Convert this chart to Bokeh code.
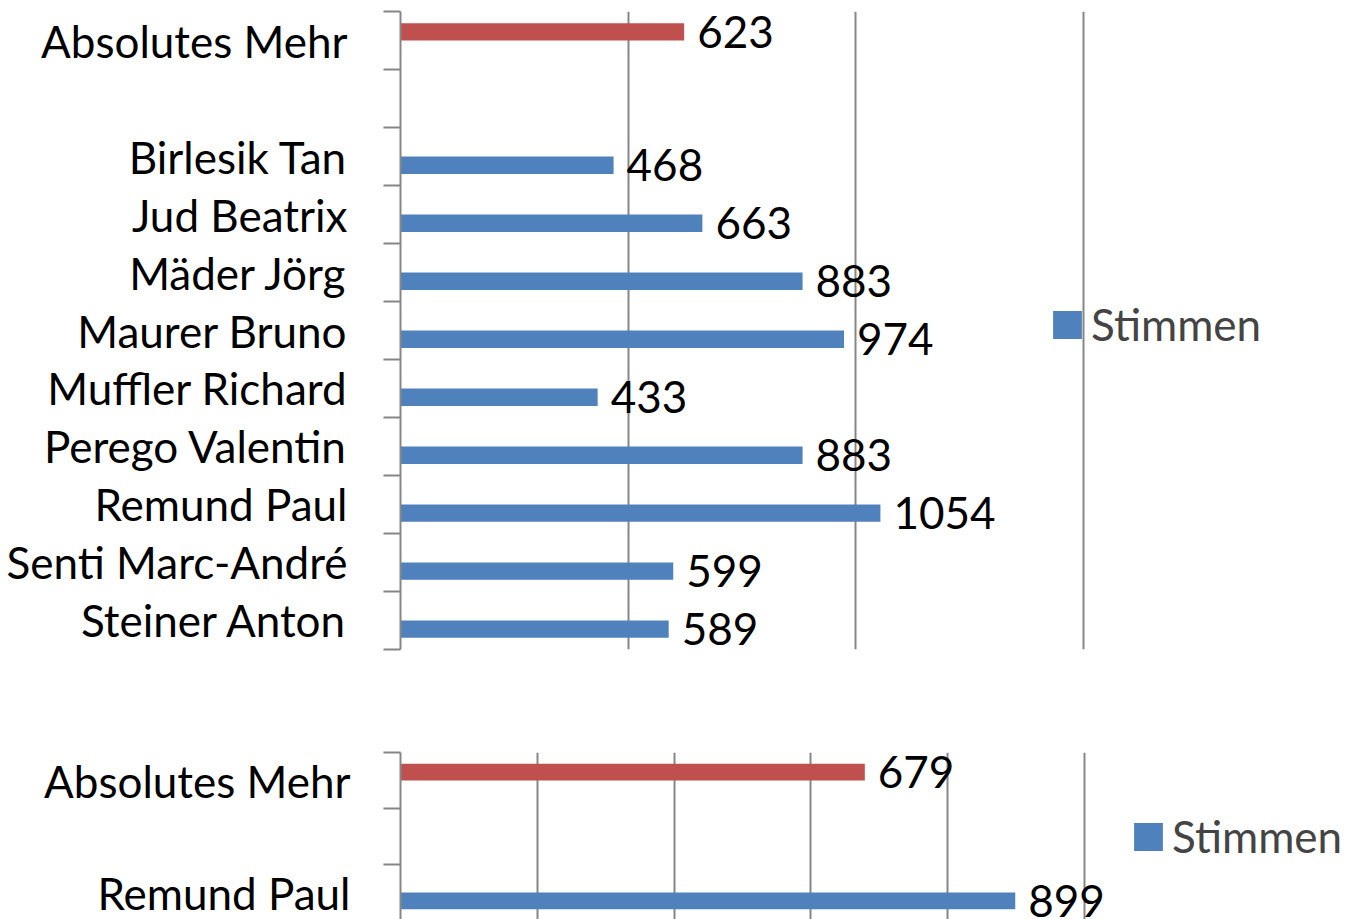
from bokeh.plotting import figure
from bokeh.models import Range1d, FixedTicker, Grid, Legend, LegendItem, ColumnDataSource
from bokeh.layouts import column
from bokeh.core.properties import value
from bokeh.embed import file_html
from bokeh.resources import INLINE

# ---------------- data ----------------
MAJORITY_LABEL = "Absolutes Mehr"
SERIES_LABEL = "Stimmen"

# first ballot
top_names = ["Birlesik Tan", "Jud Beatrix", "Mäder Jörg", "Maurer Bruno",
             "Muffler Richard", "Perego Valentin", "Remund Paul",
             "Senti Marc-André", "Steiner Anton"]
top_votes = [468, 663, 883, 974, 433, 883, 1054, 599, 589]
top_majority = 623
top_grid_ticks = [500, 1000, 1500]

# second ballot
bottom_names = ["Remund Paul"]
bottom_votes = [899]
bottom_majority = 679
bottom_grid_ticks = [200, 400, 600, 800, 1000]

# ---------------- style ----------------
BLUE = "#4F81BD"
RED = "#C0504D"
GRAY = "#868686"
FONT = "Lato"
LABEL_SIZE = "44px"
VALUE_SIZE = "44px"
LEGEND_SIZE = "44px"
FIG_W = 1350


def make_chart(names, votes, majority, grid_ticks, height, border_left,
               border_top, border_bottom, frame_px_at_max, visible_slots,
               legend_loc, standoff):
    categories = [MAJORITY_LABEL, " "] + names
    n = len(categories)
    axis_max = grid_ticks[-1]
    frame_w = FIG_W - border_left
    x_end = axis_max * frame_w / frame_px_at_max
    eps = 1e-3
    if visible_slots is None:
        y_start = n - 0.5 + eps
    else:
        y_start = -0.5 + visible_slots
    p = figure(width=FIG_W, height=height, title=None,
               x_range=Range1d(0, x_end), y_range=Range1d(y_start, -0.5 - eps),
               x_axis_location=None, y_axis_location="left",
               output_backend="svg", toolbar_location=None,
               min_border_left=border_left, min_border_top=border_top,
               min_border_bottom=border_bottom, min_border_right=0)
    p.outline_line_color = None
    p.background_fill_color = "white"
    p.border_fill_color = "white"
    p.xgrid.visible = False
    p.ygrid.visible = False
    p.add_layout(Grid(dimension=0, ticker=FixedTicker(ticks=grid_ticks),
                      grid_line_color=GRAY, grid_line_width=2), "center")

    ax = p.yaxis[0]
    ax.ticker = FixedTicker(ticks=list(range(n)),
                            minor_ticks=[i - 0.5 for i in range(n + 1)])
    ax.major_label_overrides = {i: c for i, c in enumerate(categories)}
    ax.axis_line_color = GRAY
    ax.axis_line_width = 2
    ax.major_tick_out = 0
    ax.major_tick_in = 0
    ax.minor_tick_out = 17
    ax.minor_tick_in = 0
    ax.minor_tick_line_color = GRAY
    ax.minor_tick_line_width = 2
    ax.major_label_standoff = standoff
    ax.major_label_text_font = FONT
    ax.major_label_text_font_size = LABEL_SIZE
    ax.major_label_text_color = "black"

    blue_src = ColumnDataSource(dict(
        y=[categories.index(nm) + 0.15 for nm in names],
        v=votes, lbl=[str(v) for v in votes]))
    red_src = ColumnDataSource(dict(
        y=[categories.index(MAJORITY_LABEL) - 0.15],
        v=[majority], lbl=[str(majority)]))

    red = p.hbar(y="y", left=0, right="v", height=0.3, source=red_src,
                 fill_color=RED, line_color=None)
    blue = p.hbar(y="y", left=0, right="v", height=0.3, source=blue_src,
                  fill_color=BLUE, line_color=None)
    for src in (red_src, blue_src):
        p.text(x="v", y="y", text="lbl", source=src, x_offset=13,
               text_align="left", text_baseline="middle",
               text_font=value(FONT), text_font_size=VALUE_SIZE,
               text_color="black")

    legend = Legend(items=[LegendItem(label=SERIES_LABEL, renderers=[blue])],
                    location=legend_loc, border_line_color=None,
                    background_fill_alpha=0, padding=0, margin=0,
                    glyph_width=36, glyph_height=35, label_standoff=6,
                    label_height=35, label_text_font=FONT,
                    label_text_font_size=LEGEND_SIZE)
    p.add_layout(legend, "center")
    return p


top = make_chart(top_names, top_votes, top_majority, top_grid_ticks,
                 height=699, border_left=400, border_top=11, border_bottom=50,
                 frame_px_at_max=683, visible_slots=None, legend_loc=(649, 299),
                 standoff=36)
bottom = make_chart(bottom_names, bottom_votes, bottom_majority,
                    bottom_grid_ticks, height=220, border_left=397,
                    border_top=53, border_bottom=0, frame_px_at_max=686,
                    visible_slots=167 / 56, legend_loc=(730, 57), standoff=33)

layout = column(top, bottom, spacing=0)
open("out.html", "w").write(file_html(layout, INLINE))
